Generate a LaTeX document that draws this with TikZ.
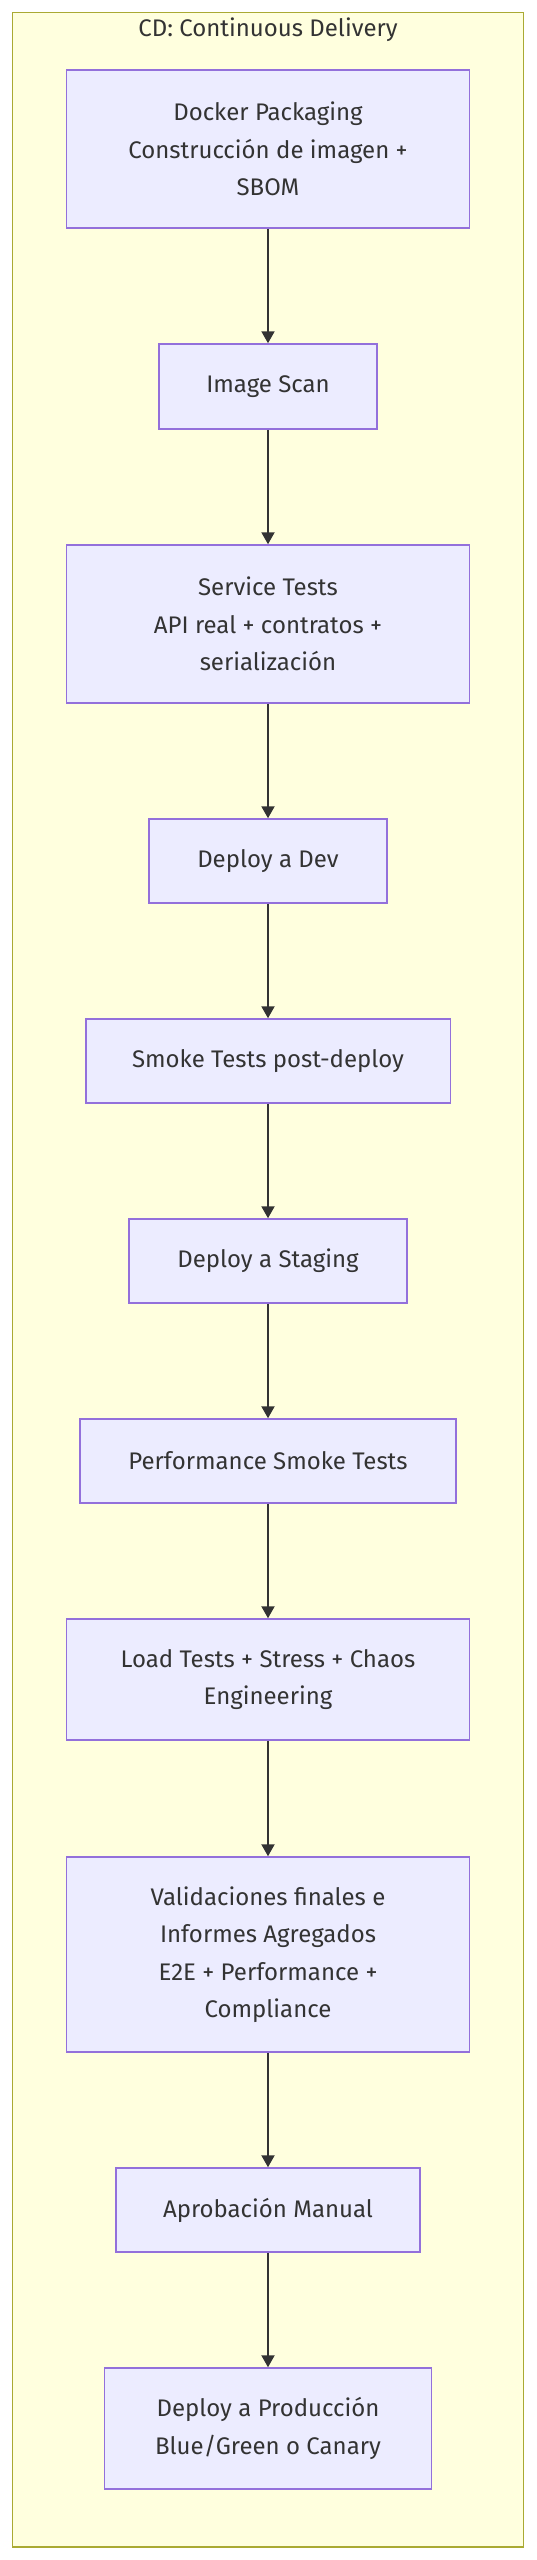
\documentclass[tikz,border=0pt]{standalone}
\usepackage{fontspec}
\setmainfont{Fira Sans}
\usetikzlibrary{arrows.meta}
\definecolor{nodefill}{HTML}{ECECFF}
\definecolor{nodestroke}{HTML}{9370DB}
\definecolor{clusterfill}{HTML}{FFFFDE}
\definecolor{clusterstroke}{HTML}{AAAA33}
\definecolor{txt}{HTML}{333333}
\tikzset{
  stagebox/.style={draw=nodestroke, fill=nodefill, line width=1.5pt, rectangle,
    inner sep=0pt, align=center, text=txt,
    font={\fontsize{24}{37.5}\selectfont}},
  flow/.style={draw=txt, line width=2pt, -{Triangle[length=12pt,width=13pt]}}
}
\begin{document}
\begin{tikzpicture}[x=1pt,y=-1pt]
\useasboundingbox (0,0) rectangle (536,2560);
\draw[draw=clusterstroke, fill=clusterfill, line width=1.5pt] (12.3,12.3) rectangle (523.7,2547);
\node[text=txt, font={\fontsize{24}{28}\selectfont}] (title) at (268,30) {CD: Continuous Delivery};

\node[stagebox, minimum width=403pt, minimum height=158pt] (docker) at (268,149) {Docker Packaging\\Construcción de imagen +\\SBOM};
\node[stagebox, minimum width=218pt, minimum height=85pt] (scan) at (268,386.5) {Image Scan};
\node[stagebox, minimum width=403pt, minimum height=158pt] (service) at (268,624) {Service Tests\\API real + contratos +\\serialización};
\node[stagebox, minimum width=238pt, minimum height=84pt] (dev) at (268,861) {Deploy a Dev};
\node[stagebox, minimum width=364.5pt, minimum height=84pt] (smoke) at (268,1061) {Smoke Tests post-deploy};
\node[stagebox, minimum width=278pt, minimum height=84pt] (staging) at (268,1261) {Deploy a Staging};
\node[stagebox, minimum width=375.7pt, minimum height=84pt] (perf) at (268,1461) {Performance Smoke Tests};
\node[stagebox, minimum width=403pt, minimum height=121pt] (load) at (268,1679.5) {Load Tests + Stress + Chaos\\Engineering};
\node[stagebox, minimum width=403pt, minimum height=195pt] (valid) at (268,1954.5) {Validaciones finales e\\Informes Agregados\\E2E + Performance +\\Compliance};
\node[stagebox, minimum width=303.6pt, minimum height=84pt] (aprob) at (268,2210) {Aprobación Manual};
\node[stagebox, minimum width=327pt, minimum height=121pt] (prod) at (268,2428.5) {Deploy a Producción\\Blue/Green o Canary};

\draw[flow] (docker) -- (scan);
\draw[flow] (scan) -- (service);
\draw[flow] (service) -- (dev);
\draw[flow] (dev) -- (smoke);
\draw[flow] (smoke) -- (staging);
\draw[flow] (staging) -- (perf);
\draw[flow] (perf) -- (load);
\draw[flow] (load) -- (valid);
\draw[flow] (valid) -- (aprob);
\draw[flow] (aprob) -- (prod);
\end{tikzpicture}
\end{document}
